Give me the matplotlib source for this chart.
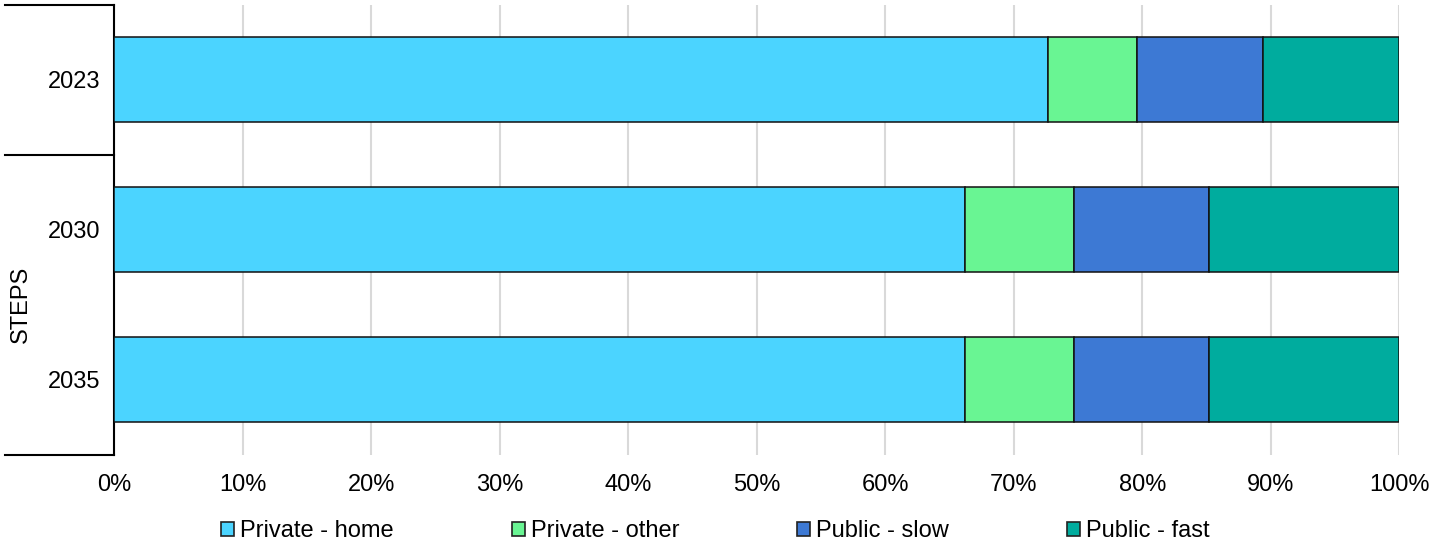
import matplotlib
matplotlib.use("Agg")
import numpy as np
from matplotlib import pyplot as plt
from matplotlib.patches import Patch
import matplotlib.transforms as mtransforms

plt.rcParams['font.family'] = ['Liberation Sans', 'DejaVu Sans']

# data (shares of charging, %)
years = ['2023', '2030', '2035']
series = ['Private - home', 'Private - other', 'Public - slow', 'Public - fast']
private_home = [72.7, 66.2, 66.2]
private_other = [6.9, 8.5, 8.5]
public_slow = [9.8, 10.5, 10.5]
public_fast = [10.6, 14.8, 14.8]
group_label = 'STEPS'

colors = ['#4BD4FF', '#69F593', '#3D79D4', '#00AC9E']
fs = 17

fig = plt.figure(figsize=(14.31, 5.43), dpi=100)
ax = fig.add_axes([0.0800, 0.1621, 0.8978, 0.8296])

y = np.arange(len(years))
left = np.zeros(len(years))
for vals, c, name in zip([private_home, private_other, public_slow, public_fast], colors, series):
    ax.barh(y, vals, left=left, height=0.567, color=c, edgecolor='#111111',
            linewidth=1.1, label=name, zorder=3)
    left += np.array(vals)

ax.set_xlim(0, 100)
ax.set_ylim(2.5, -0.5)
ax.set_xticks(range(0, 101, 10))
ax.xaxis.set_major_formatter(plt.FuncFormatter('{:.0f}%'.format))
ax.set_yticks(y)
ax.set_yticklabels(years)
ax.tick_params(axis='x', length=0, pad=13.5, labelsize=fs)
ax.tick_params(axis='y', length=0, pad=10, labelsize=fs)

ax.grid(True, 'major', 'x', color='#d9d9d9', lw=1.5, zorder=0)
ax.set_axisbelow(True)

for s in ['top', 'right', 'bottom']:
    ax.spines[s].set_visible(False)
ax.spines['left'].set_linewidth(1.5)
ax.spines['left'].set_color('black')

# category group separators on the left
trans = mtransforms.blended_transform_factory(ax.transAxes, ax.transData)
for yy in [-0.5, 0.5, 2.5]:
    ax.plot([-0.0852, 0], [yy, yy], color='black', lw=1.5, transform=trans, clip_on=False)
ax.text(-0.0728, 1.5, group_label, rotation=90, ha='center', va='center',
        fontsize=fs, transform=trans)

handles = [Patch(facecolor=c, edgecolor='#222222', linewidth=1.2) for c in colors]
fig.legend(handles, series, loc='center', bbox_to_anchor=(0.5, 0.022), ncol=4,
           frameon=False, fontsize=fs, handlelength=0.55, handleheight=0.55,
           handletextpad=0.25, columnspacing=5.0, borderpad=0, borderaxespad=0)

fig.savefig('out.png', dpi=100)
